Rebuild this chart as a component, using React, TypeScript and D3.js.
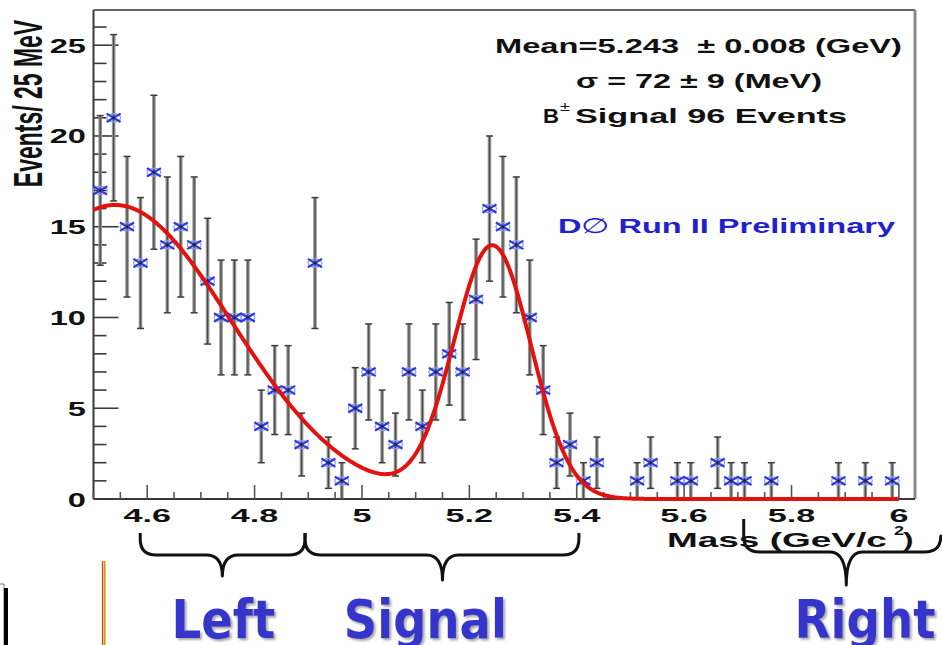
import React from 'react';
import * as d3 from 'd3';

// Histogram: B± candidate invariant mass, 25 MeV bins starting at 4.5 GeV
const MASS_MIN = 4.5;
const BIN_WIDTH = 0.025;
const counts = [
  17, 21, 15, 13, 18, 14, 15, 14, 12, 10, 10, 10, 4, 6, 6, 3, 13,
  2, 1, 5, 7, 4, 3, 7, 4, 7, 8, 7, 11, 16, 15, 14, 10, 6, 2, 3, 1, 2,
  0, 0, 1, 2, 0, 1, 1, 0, 2, 1, 1, 0, 1, 0, 0, 0, 0, 1, 0, 1, 0, 1, 0,
];

// Fit: Gaussian signal + Gaussian-shaped falling background
const signalMean = 5.243;
const signalSigma = 0.072;
const signalPeak = 13.9;
const bkgPeak = 16.2;
const bkgMean = 4.54;
const bkgSigma = 0.216;
const fitRange = [4.5, 6.0];

// Axis ticks
const yMajorTicks = [0, 5, 10, 15, 20, 25];
const xMajorTicks = [4.6, 4.8, 5.0, 5.2, 5.4, 5.6, 5.8, 6.0];
const xMajorLabels = ['4.6', '4.8', '5', '5.2', '5.4', '5.6', '5.8', '6'];

// Text block
const statLines = ['Mean=5.243  \u00b1 0.008 (GeV)', '\u03c3 = 72 \u00b1 9 (MeV)'];
const signalLabel = ['B', '\u00b1', 'Signal 96 Events'];
const experimentLabel = ['D', '\u2205', ' Run II Preliminary'];

// Mass regions marked under the axis
const regionNames = ['Left', 'Signal', 'Right'];
const regionFrom = [4.587, 4.894, 5.711];
const regionTo = [4.894, 5.404, 6.078];
const regionCusp = [4.74, 5.15, 5.902];
const regionLabelAt = [4.742, 5.118, 5.937];

const FONT = '"Liberation Sans", Arial, Helvetica, sans-serif';
const LABEL_FONT = '"DejaVu Sans", Verdana, sans-serif';

const gauss = (m: number, peak: number, mu: number, s: number) =>
  peak * Math.exp(-((m - mu) * (m - mu)) / (2 * s * s));
const fitFn = (m: number) =>
  gauss(m, signalPeak, signalMean, signalSigma) + gauss(m, bkgPeak, bkgMean, bkgSigma);

function Marker({ cx, cy }: { cx: number; cy: number }) {
  return (
    <g transform={`translate(${cx},${cy})`}>
      <ellipse rx={7} ry={4} fill="none" stroke="#8f9af2" strokeWidth={1.2} />
      <path d="M-7,-4.2 L7,4.2 M-7,4.2 L7,-4.2" stroke="#2b3ae0" strokeWidth={2.2} />
      <circle r={1.3} fill="#222" />
    </g>
  );
}

function bracePath(x1: number, x2: number, xm: number, yTipL: number, yTipR: number, yLine: number, yCusp: number) {
  const r = 16;
  return [
    `M${x1},${yTipL}`,
    `L${x1},${yLine - r}`,
    `Q${x1},${yLine} ${x1 + r},${yLine}`,
    `L${xm - r},${yLine}`,
    `Q${xm},${yLine} ${xm},${yCusp}`,
    `Q${xm},${yLine} ${xm + r},${yLine}`,
    `L${x2 - r},${yLine}`,
    `Q${x2},${yLine} ${x2},${yLine - r}`,
    `L${x2},${yTipR}`,
  ].join(' ');
}

export default function App() {
  const x = d3.scaleLinear().domain([4.5, 6.03]).range([93.5, 915]);
  const y = d3.scaleLinear().domain([0, 26.94]).range([499, 10]);
  const [x0, x1] = x.range();
  const [yBottom, yTop] = y.range();

  const bins = counts.map((c, i) => ({ m: MASS_MIN + BIN_WIDTH * (i + 0.5), c }));
  const filled = bins.filter((b) => b.c > 0);

  const fitPts = d3.range(fitRange[0], fitRange[1] + 1e-9, 0.002).map((m) => [m, fitFn(m)] as [number, number]);
  const fitLine = d3
    .line<[number, number]>()
    .x((d) => x(d[0]))
    .y((d) => y(d[1]));

  const yTicks = d3.range(0, 27);
  const xTicks = d3.range(0, 31).map((i) => +(MASS_MIN + i * 0.05).toFixed(2));

  const braceGeom = [
    { tipL: 533, tipR: 533, line: 555, cusp: 576 },
    { tipL: 533, tipR: 533, line: 555, cusp: 580 },
    { tipL: 519, tipR: 540, line: 552, cusp: 585 },
  ];
  const labelWidths = [104, 163, 141];

  return (
    <svg width={942} height={645} style={{ position: 'fixed', left: 0, top: 0, display: 'block' }}>
      <defs>
        <filter id="labelShadow" x="-10%" y="-10%" width="130%" height="130%">
          <feDropShadow dx={2} dy={2} stdDeviation={0.8} floodColor="#a8a8a8" floodOpacity={1} />
        </filter>
      </defs>
      <rect width={942} height={645} fill="#fff" />

      {/* frame */}
      <line x1={x0} x2={x1} y1={yTop} y2={yTop} stroke="#333" strokeWidth={1.5} />
      <line x1={x1} x2={x1} y1={yTop} y2={yBottom} stroke="#8a8a8a" strokeWidth={3} />
      <line x1={x0} x2={x0} y1={yTop} y2={yBottom} stroke="#3a3a3a" strokeWidth={2} />
      <line x1={x0} x2={x1} y1={yBottom} y2={yBottom} stroke="#3a3a3a" strokeWidth={2} />

      {/* y ticks */}
      {yTicks.map((v) => (
        <line key={`yt${v}`} x1={x0} x2={x0 + (v % 5 === 0 ? 25 : 13)} y1={y(v)} y2={y(v)} stroke="#3a3a3a" strokeWidth={1.6} />
      ))}
      {/* x ticks */}
      {xTicks.map((v) => {
        const major = xMajorTicks.some((t) => Math.abs(t - v) < 1e-6);
        return (
          <line key={`xt${v}`} x1={x(v)} x2={x(v)} y1={yBottom} y2={yBottom - (major ? 14 : 7)} stroke="#555" strokeWidth={1.6} />
        );
      })}

      {/* y tick labels */}
      {yMajorTicks.map((v) => (
        <text
          key={`yl${v}`}
          transform={`translate(86,${y(v) + 7.5}) scale(1.63,1)`}
          textAnchor="end"
          fontFamily={FONT}
          fontWeight="bold"
          fontSize={20}
          fill="#111"
        >
          {v}
        </text>
      ))}
      {/* x tick labels */}
      {xMajorTicks.map((v, i) => (
        <text
          key={`xl${v}`}
          transform={`translate(${x(v)},522) scale(1.9,1)`}
          textAnchor="middle"
          fontFamily={FONT}
          fontWeight="bold"
          fontSize={18}
          fill="#111"
        >
          {xMajorLabels[i]}
        </text>
      ))}

      {/* axis titles */}
      <text
        transform="translate(42,103.5) scale(1.75,1) rotate(-90)"
        textAnchor="middle"
        fontFamily={FONT}
        fontWeight="bold"
        fontSize={23}
        fill="#111"
        style={{ whiteSpace: 'pre' }}
      >
        Events/ 25 MeV
      </text>
      <text transform="translate(667,547) scale(1.76,1)" fontFamily={FONT} fontWeight="bold" fontSize={21} fill="#111">
        Mass (GeV/c
      </text>
      <text transform="translate(899,535) scale(1.5,1)" textAnchor="middle" fontFamily={FONT} fontWeight="bold" fontSize={12} fill="#111">
        2
      </text>
      <text transform="translate(903,547) scale(1.5,1)" fontFamily={FONT} fontWeight="bold" fontSize={21} fill="#111">
        )
      </text>

      {/* error bars */}
      {filled.map((b, i) => {
        const cx = x(b.m);
        const e = Math.sqrt(b.c);
        const yt = y(b.c + e);
        const yb = y(Math.max(0, b.c - e));
        return (
          <g key={`eb${i}`}>
            <line x1={cx} x2={cx} y1={yt} y2={yb} stroke="#959595" strokeWidth={3.6} />
            <line x1={cx} x2={cx} y1={yt} y2={yb} stroke="#4a4a4a" strokeWidth={1.2} />
            <line x1={cx - 3.5} x2={cx + 3.5} y1={yt} y2={yt} stroke="#3c3c3c" strokeWidth={1.5} />
            <line x1={cx - 3.5} x2={cx + 3.5} y1={yb} y2={yb} stroke="#3c3c3c" strokeWidth={1.5} />
          </g>
        );
      })}
      {filled.map((b, i) => (
        <Marker key={`mk${i}`} cx={x(b.m)} cy={y(b.c)} />
      ))}

      {/* fit */}
      <path d={fitLine(fitPts) || ''} fill="none" stroke="#e3120f" strokeWidth={4} strokeLinejoin="round" />

      {/* fit results */}
      <text x={495} y={53} fontFamily={FONT} fontWeight="bold" fontSize={21} fill="#111" textLength={407} lengthAdjust="spacingAndGlyphs" style={{ whiteSpace: 'pre' }}>
        {statLines[0]}
      </text>
      <text x={576} y={88} fontFamily={FONT} fontWeight="bold" fontSize={20} fill="#111" textLength={246} lengthAdjust="spacingAndGlyphs" style={{ whiteSpace: 'pre' }}>
        {statLines[1]}
      </text>
      <text x={543} y={123} fontFamily={FONT} fontWeight="bold" fontSize={21} fill="#111" textLength={16} lengthAdjust="spacingAndGlyphs">
        {signalLabel[0]}
      </text>
      <text x={560} y={111} fontFamily={FONT} fontSize={13} fill="#111" textLength={10} lengthAdjust="spacingAndGlyphs">
        {signalLabel[1]}
      </text>
      <text x={575} y={123} fontFamily={FONT} fontWeight="bold" fontSize={21} fill="#111" textLength={272} lengthAdjust="spacingAndGlyphs">
        {signalLabel[2]}
      </text>
      <text x={558} y={233} fontFamily={FONT} fontWeight="bold" fontSize={21} fill="#1f22cc" textLength={337} lengthAdjust="spacingAndGlyphs" style={{ whiteSpace: 'pre' }}>
        {experimentLabel[0]}
        <tspan fontWeight="normal">{experimentLabel[1]}</tspan>
        {experimentLabel[2]}
      </text>

      {/* mass regions */}
      {regionNames.map((name, i) => {
        const g = braceGeom[i];
        return (
          <path
            key={`br-${name}`}
            d={bracePath(x(regionFrom[i]), x(regionTo[i]), x(regionCusp[i]), g.tipL, g.tipR, g.line, g.cusp)}
            fill="none"
            stroke="#111"
            strokeWidth={3}
            strokeLinejoin="round"
          />
        );
      })}
      {regionNames.map((name, i) => (
        <text
          key={`rl-${name}`}
          x={x(regionLabelAt[i])}
          y={638}
          textAnchor="middle"
          fontFamily={LABEL_FONT}
          fontWeight="bold"
          fontSize={54}
          fill="#3434cc"
          textLength={labelWidths[i]}
          lengthAdjust="spacingAndGlyphs"
          filter="url(#labelShadow)"
        >
          {name}
        </text>
      ))}

      {/* slide edge details */}
      <path d="M0,584 H4 V645" fill="none" stroke="#777" strokeWidth={1} />
      <line x1={6} x2={6} y1={588} y2={645} stroke="#000" strokeWidth={4} />
      <line x1={102.5} x2={102.5} y1={561} y2={645} stroke="#ff2a2a" strokeWidth={1.2} />
      <line x1={104.6} x2={104.6} y1={561} y2={645} stroke="#c2a400" strokeWidth={2} />
    </svg>
  );
}
